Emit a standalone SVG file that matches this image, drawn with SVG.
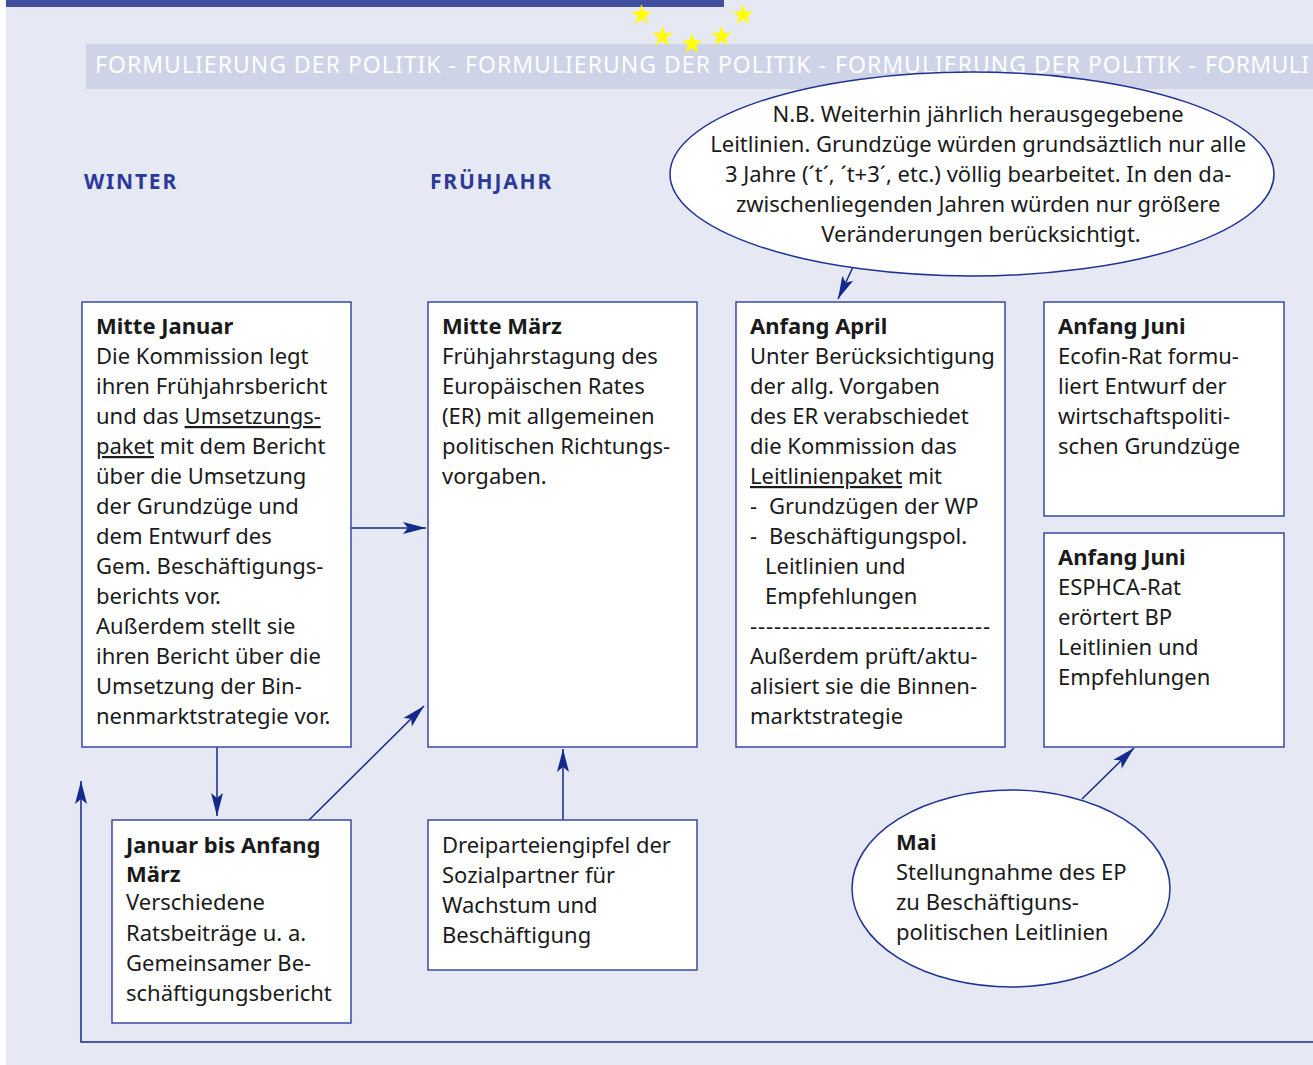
<svg xmlns="http://www.w3.org/2000/svg" width="1313" height="1065" viewBox="0 0 1313 1065">
<style>
.bg{fill:#e6e9f3}
.box{fill:#fff;stroke:#3a4aa5;stroke-width:1.5}
.ell{fill:#fff;stroke:#1f3192;stroke-width:1.5}
.t{font-family:"Noto Sans","DejaVu Sans",sans-serif;font-size:22px;fill:#1a1a1a}
.b{font-weight:bold}
.hd{font-family:"Noto Sans","DejaVu Sans",sans-serif;font-size:21px;font-weight:bold;fill:#2b3a9a;letter-spacing:1.8px}
.ban{font-family:"Noto Sans","DejaVu Sans",sans-serif;font-size:23px;fill:#fff}
.u{text-decoration:underline}
.con{fill:none;stroke:#13298c;stroke-width:1.5}
.star{fill:#ffff00}
</style>
<defs>
<marker id="ah" markerUnits="userSpaceOnUse" viewBox="-1 -7 26 14" refX="23" refY="0" markerWidth="26" markerHeight="14" orient="auto">
<path d="M0,-6 L23,0 L0,6 L5,0 z" fill="#13298c"/>
</marker>
<polygon id="st" points="0,-11 2.47,-3.4 10.46,-3.4 4,1.3 6.47,8.9 0,4.2 -6.47,8.9 -4,1.3 -10.46,-3.4 -2.47,-3.4"/>
</defs>
<rect x="0" y="0" width="1313" height="1065" fill="#fff"/>
<rect class="bg" x="6" y="0" width="1307" height="1065"/>
<rect x="6" y="0" width="718" height="7" fill="#404ea0"/>
<rect x="86" y="44" width="1227" height="45" fill="#ced3e8"/>
<g id="banner-text" class="ban">
<text x="95" y="73" textLength="361" lengthAdjust="spacing">FORMULIERUNG DER POLITIK -</text>
<text x="465" y="73" textLength="361" lengthAdjust="spacing">FORMULIERUNG DER POLITIK -</text>
<text x="835" y="73" textLength="361" lengthAdjust="spacing">FORMULIERUNG DER POLITIK -</text>
<text x="1205" y="73" textLength="104" lengthAdjust="spacing">FORMULI</text>
</g>
<g id="stars" class="star">
<use href="#st" x="641.5" y="15"/>
<use href="#st" x="743" y="15"/>
<use href="#st" x="662.5" y="36.5"/>
<use href="#st" x="692" y="44"/>
<use href="#st" x="721.5" y="36.5"/>
</g>
<g id="headers">
<text class="hd" x="84" y="189">WINTER</text>
<text class="hd" x="430" y="189">FRÜHJAHR</text>
</g>
<g id="connectors">
<path class="con" d="M351,528 H426" marker-end="url(#ah)"/>
<path class="con" d="M217,747 V816" marker-end="url(#ah)"/>
<path class="con" d="M309,820 L424,706" marker-end="url(#ah)"/>
<path class="con" d="M563,820 V749" marker-end="url(#ah)"/>
<path class="con" d="M853,267 L838,299" marker-end="url(#ah)"/>
<path class="con" d="M1082,799 L1134,748" marker-end="url(#ah)"/>
<path class="con" d="M1313,1042 H81 V781" marker-end="url(#ah)"/>
</g>
<g id="note">
<ellipse class="ell" cx="972" cy="174" rx="302" ry="102"/>
<text class="t" text-anchor="middle">
<tspan x="981" y="122">N.B. Weiterhin jährlich herausgegebene</tspan>
<tspan x="981" y="152">Leitlinien. Grundzüge würden grundsäztlich nur alle</tspan>
<tspan x="981" y="182">3 Jahre (´t´, ´t+3´, etc.) völlig bearbeitet. In den da-</tspan>
<tspan x="981" y="212">zwischenliegenden Jahren würden nur größere</tspan>
<tspan x="981" y="242">Veränderungen berücksichtigt.</tspan>
</text>
</g>
<g id="mitte-januar">
<rect class="box" x="82" y="302" width="269" height="445"/>
<text class="t">
<tspan class="b" x="96" y="334">Mitte Januar</tspan>
<tspan x="96" y="364">Die Kommission legt</tspan>
<tspan x="96" y="394">ihren Frühjahrsbericht</tspan>
<tspan x="96" y="424">und das <tspan class="u">Umsetzungs-</tspan></tspan>
<tspan x="96" y="454"><tspan class="u">paket</tspan> mit dem Bericht</tspan>
<tspan x="96" y="484">über die Umsetzung</tspan>
<tspan x="96" y="514">der Grundzüge und</tspan>
<tspan x="96" y="544">dem Entwurf des</tspan>
<tspan x="96" y="574">Gem. Beschäftigungs-</tspan>
<tspan x="96" y="604">berichts vor.</tspan>
<tspan x="96" y="634">Außerdem stellt sie</tspan>
<tspan x="96" y="664">ihren Bericht über die</tspan>
<tspan x="96" y="694">Umsetzung der Bin-</tspan>
<tspan x="96" y="724">nenmarktstrategie vor.</tspan>
</text>
</g>
<g id="mitte-maerz">
<rect class="box" x="428" y="302" width="269" height="445"/>
<text class="t">
<tspan class="b" x="442" y="334">Mitte März</tspan>
<tspan x="442" y="364">Frühjahrstagung des</tspan>
<tspan x="442" y="394">Europäischen Rates</tspan>
<tspan x="442" y="424">(ER) mit allgemeinen</tspan>
<tspan x="442" y="454">politischen Richtungs-</tspan>
<tspan x="442" y="484">vorgaben.</tspan>
</text>
</g>
<g id="anfang-april">
<rect class="box" x="736" y="302" width="269" height="445"/>
<text class="t">
<tspan class="b" x="750" y="334">Anfang April</tspan>
<tspan x="750" y="364">Unter Berücksichtigung</tspan>
<tspan x="750" y="394">der allg. Vorgaben</tspan>
<tspan x="750" y="424">des ER verabschiedet</tspan>
<tspan x="750" y="454">die Kommission das</tspan>
<tspan x="750" y="484"><tspan class="u">Leitlinienpaket</tspan> mit</tspan>
<tspan x="750" y="514">-</tspan><tspan x="769" y="514">Grundzügen der WP</tspan>
<tspan x="750" y="544">-</tspan><tspan x="769" y="544">Beschäftigungspol.</tspan>
<tspan x="765" y="574">Leitlinien und</tspan>
<tspan x="765" y="604">Empfehlungen</tspan>
<tspan x="750" y="634" textLength="240" lengthAdjust="spacing">------------------------------</tspan>
<tspan x="750" y="664">Außerdem prüft/aktu-</tspan>
<tspan x="750" y="694">alisiert sie die Binnen-</tspan>
<tspan x="750" y="724">marktstrategie</tspan>
</text>
</g>
<g id="anfang-juni-ecofin">
<rect class="box" x="1044" y="302" width="240" height="214"/>
<text class="t">
<tspan class="b" x="1058" y="334">Anfang Juni</tspan>
<tspan x="1058" y="364">Ecofin-Rat formu-</tspan>
<tspan x="1058" y="394">liert Entwurf der</tspan>
<tspan x="1058" y="424">wirtschaftspoliti-</tspan>
<tspan x="1058" y="454">schen Grundzüge</tspan>
</text>
</g>
<g id="anfang-juni-esphca">
<rect class="box" x="1044" y="533" width="240" height="214"/>
<text class="t">
<tspan class="b" x="1058" y="565">Anfang Juni</tspan>
<tspan x="1058" y="595">ESPHCA-Rat</tspan>
<tspan x="1058" y="625">erörtert BP</tspan>
<tspan x="1058" y="655">Leitlinien und</tspan>
<tspan x="1058" y="685">Empfehlungen</tspan>
</text>
</g>
<g id="januar-bis-maerz">
<rect class="box" x="112" y="820" width="239" height="203"/>
<text class="t">
<tspan class="b" x="126" y="853">Januar bis Anfang</tspan>
<tspan class="b" x="126" y="882">März</tspan>
<tspan x="126" y="910">Verschiedene</tspan>
<tspan x="126" y="941">Ratsbeiträge u. a.</tspan>
<tspan x="126" y="971">Gemeinsamer Be-</tspan>
<tspan x="126" y="1001">schäftigungsbericht</tspan>
</text>
</g>
<g id="dreiparteiengipfel">
<rect class="box" x="428" y="820" width="269" height="150"/>
<text class="t">
<tspan x="442" y="853">Dreiparteiengipfel der</tspan>
<tspan x="442" y="883">Sozialpartner für</tspan>
<tspan x="442" y="913">Wachstum und</tspan>
<tspan x="442" y="943">Beschäftigung</tspan>
</text>
</g>
<g id="mai">
<ellipse class="ell" cx="1011" cy="888.5" rx="159" ry="98.5"/>
<text class="t">
<tspan class="b" x="896" y="850">Mai</tspan>
<tspan x="896" y="880">Stellungnahme des EP</tspan>
<tspan x="896" y="910">zu Beschäftiguns-</tspan>
<tspan x="896" y="940">politischen Leitlinien</tspan>
</text>
</g>
</svg>
